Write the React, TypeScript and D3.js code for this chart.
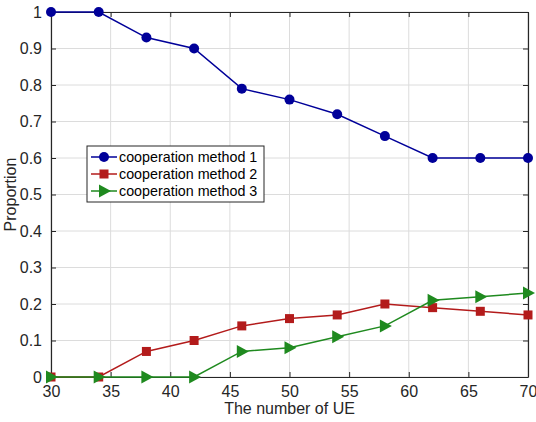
import React, { useEffect, useRef } from 'react';
import * as d3 from 'd3';

const ueCounts = [30, 34, 38, 42, 46, 50, 54, 58, 62, 66, 70];
const method1 = [1, 1, 0.93, 0.9, 0.79, 0.76, 0.72, 0.66, 0.6, 0.6, 0.6];
const method2 = [0, 0, 0.07, 0.1, 0.14, 0.16, 0.17, 0.2, 0.19, 0.18, 0.17];
const method3 = [0, 0, 0, 0, 0.07, 0.08, 0.11, 0.14, 0.21, 0.22, 0.23];
const xTicks = [30, 35, 40, 45, 50, 55, 60, 65, 70];
const yTicks = [0, 0.1, 0.2, 0.3, 0.4, 0.5, 0.6, 0.7, 0.8, 0.9, 1];
const seriesNames = ['cooperation method 1', 'cooperation method 2', 'cooperation method 3'];

const App = () => {
  const svgRef = useRef<SVGSVGElement>(null);

  useEffect(() => {
    const width = 536;
    const height = 422;
    const margin = { top: 12, right: 8, bottom: 45, left: 51 };
    const innerWidth = width - margin.left - margin.right;
    const innerHeight = height - margin.top - margin.bottom;

    const svg = d3.select(svgRef.current);
    svg.selectAll('*').remove();
    svg.attr('width', width).attr('height', height);

    const g = svg.append('g').attr('transform', `translate(${margin.left},${margin.top})`);

    const x = d3.scaleLinear().domain([30, 70]).range([0, innerWidth]);
    const y = d3.scaleLinear().domain([0, 1]).range([innerHeight, 0]);

    const axisColor = '#262626';
    const font = 'Helvetica, Arial, "Liberation Sans", sans-serif';

    g.append('rect').attr('width', innerWidth).attr('height', innerHeight).attr('fill', 'white');

    // grid
    g.append('g')
      .selectAll('line')
      .data(xTicks)
      .enter().append('line')
      .attr('x1', d => x(d)).attr('x2', d => x(d))
      .attr('y1', 0).attr('y2', innerHeight)
      .attr('stroke', '#dcdcdc').attr('stroke-width', 1);
    g.append('g')
      .selectAll('line')
      .data(yTicks)
      .enter().append('line')
      .attr('x1', 0).attr('x2', innerWidth)
      .attr('y1', d => y(d)).attr('y2', d => y(d))
      .attr('stroke', '#dcdcdc').attr('stroke-width', 1);

    // axes (ticks inward)
    const bottom = g.append('g')
      .attr('transform', `translate(0,${innerHeight})`)
      .call(d3.axisBottom(x).tickValues(xTicks).tickSize(-5).tickPadding(9).tickSizeOuter(0));
    const left = g.append('g')
      .call(d3.axisLeft(y).tickValues(yTicks).tickSize(-5).tickPadding(9).tickSizeOuter(0)
        .tickFormat(d => d3.format('')(+d)));
    const top = g.append('g')
      .call(d3.axisTop(x).tickValues(xTicks).tickSize(-5).tickFormat(() => '').tickSizeOuter(0));
    const right = g.append('g')
      .attr('transform', `translate(${innerWidth},0)`)
      .call(d3.axisRight(y).tickValues(yTicks).tickSize(-5).tickFormat(() => '').tickSizeOuter(0));

    [bottom, left, top, right].forEach(a => {
      a.selectAll('path').attr('stroke', axisColor).attr('stroke-width', 1.2);
      a.selectAll('line').attr('stroke', axisColor);
      a.selectAll('text')
        .attr('fill', axisColor)
        .style('font-family', font)
        .style('font-size', '16px');
    });

    // axis labels
    g.append('text')
      .attr('x', innerWidth / 2)
      .attr('y', innerHeight + 37)
      .attr('text-anchor', 'middle')
      .attr('fill', axisColor)
      .style('font-family', font)
      .style('font-size', '16px')
      .text('The number of UE');

    g.append('text')
      .attr('transform', `translate(${-35},${innerHeight / 2}) rotate(-90)`)
      .attr('text-anchor', 'middle')
      .attr('fill', axisColor)
      .style('font-family', font)
      .style('font-size', '16px')
      .text('Proportion');

    const line = d3.line<[number, number]>().x(d => x(d[0])).y(d => y(d[1]));

    const series = [
      { name: seriesNames[0], values: method1, color: '#000099', marker: 'circle' },
      { name: seriesNames[1], values: method2, color: '#b31b1b', marker: 'square' },
      { name: seriesNames[2], values: method3, color: '#1f8a1f', marker: 'triangle' }
    ];

    const drawMarker = (sel: any, marker: string, color: string, cx: number, cy: number) => {
      if (marker === 'circle') {
        sel.append('circle').attr('cx', cx).attr('cy', cy).attr('r', 5).attr('fill', color);
      } else if (marker === 'square') {
        sel.append('rect').attr('x', cx - 4.5).attr('y', cy - 4.5).attr('width', 9).attr('height', 9).attr('fill', color);
      } else {
        sel.append('path')
          .attr('d', `M${cx - 5},${cy - 6.5}L${cx + 7},${cy}L${cx - 5},${cy + 6.5}Z`)
          .attr('fill', color);
      }
    };

    const plot = svg.append('g').attr('transform', `translate(${margin.left},${margin.top})`);
    series.forEach(s => {
      const pts: [number, number][] = ueCounts.map((u, i) => [u, s.values[i]]);
      plot.append('path')
        .attr('d', line(pts))
        .attr('fill', 'none')
        .attr('stroke', s.color)
        .attr('stroke-width', 1.5);
      pts.forEach(p => drawMarker(plot, s.marker, s.color, x(p[0]), y(p[1])));
    });

    // legend
    const legend = svg.append('g').attr('transform', 'translate(87,146)');
    legend.append('rect')
      .attr('width', 177).attr('height', 56)
      .attr('fill', 'white').attr('stroke', axisColor).attr('stroke-width', 1);
    series.forEach((s, i) => {
      const ly = 11 + i * 17;
      legend.append('line')
        .attr('x1', 4).attr('x2', 30).attr('y1', ly).attr('y2', ly)
        .attr('stroke', s.color).attr('stroke-width', 1.5);
      drawMarker(legend, s.marker, s.color, 17, ly);
      legend.append('text')
        .attr('x', 32).attr('y', ly)
        .attr('dy', '0.35em')
        .attr('fill', 'black')
        .style('font-family', font)
        .style('font-size', '14.3px')
        .text(s.name);
    });
  }, []);

  return (
    <div style={{ position: 'absolute', left: 0, top: 0 }}>
      <svg ref={svgRef} style={{ display: 'block', background: 'white' }}></svg>
    </div>
  );
};

export default App;
